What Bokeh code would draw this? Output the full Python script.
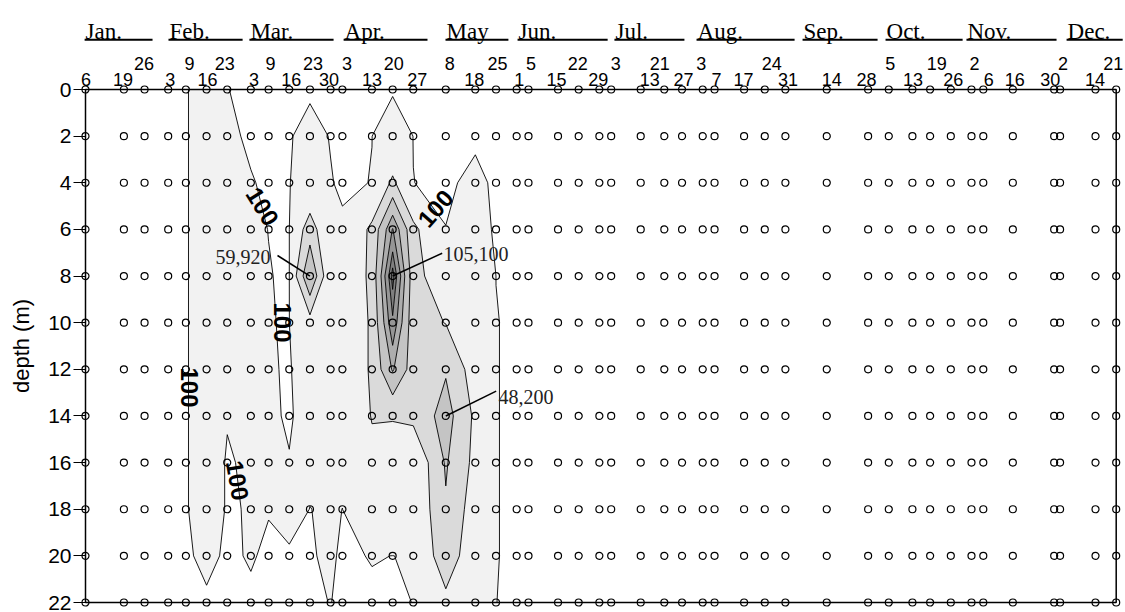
import datetime as dt
import math
import numpy as np
from bokeh.plotting import figure
from bokeh.layouts import row
from bokeh.models import Range1d, FixedTicker, ColumnDataSource
from bokeh.embed import file_html
from bokeh.resources import INLINE
from bokeh.core.properties import value

# ---------------- data ----------------
YEAR = 2001
sample_month = [1, 1, 1, 2, 2, 2, 2, 3, 3, 3, 3, 3, 4, 4, 4, 4, 5, 5, 5,
                6, 6, 6, 6, 6, 7, 7, 7, 7, 8, 8, 8, 8, 8, 9, 9,
                10, 10, 10, 10, 11, 11, 11, 11, 12, 12, 12]
sample_day = [6, 19, 26, 3, 9, 16, 23, 3, 9, 16, 23, 30, 3, 13, 20, 27, 8, 18, 25,
              1, 5, 15, 22, 29, 3, 13, 21, 27, 3, 7, 17, 24, 31, 14, 28,
              5, 13, 19, 26, 2, 6, 16, 30, 2, 14, 21]
depth_m = [0, 2, 4, 6, 8, 10, 12, 14, 16, 18, 20, 22]

# cell density at each sampling date, one list per depth (46 dates)
cells_0m = [0, 0, 0, 0, 0, 800, 110, 0, 0, 0, 0, 0, 0, 0, 0, 0, 0, 0, 0,
            0, 0, 0, 0, 0, 0, 0, 0, 0, 0, 0, 0, 0, 0, 0, 0, 0, 0, 0, 0, 0, 0, 0, 0, 0, 0, 0]
cells_2m = [0, 0, 0, 0, 0, 800, 233, 0, 0, 50, 330, 69, 0, 95, 667, 90, 0, 0, 0,
            0, 0, 0, 0, 0, 0, 0, 0, 0, 0, 0, 0, 0, 0, 0, 0, 0, 0, 0, 0, 0, 0, 0, 0, 0, 0, 0]
cells_4m = [0, 0, 0, 0, 0, 800, 300, 139, 0, 50, 1000, 135, 0, 116, 23400, 105, 0, 250, 0,
            0, 0, 0, 0, 0, 0, 0, 0, 0, 0, 0, 0, 0, 0, 0, 0, 0, 0, 0, 0, 0, 0, 0, 0, 0, 0, 0]
cells_6m = [0, 0, 0, 0, 0, 800, 300, 178, 95, 50, 30000, 200, 200, 24000, 76000, 24000, 110, 450, 0,
            0, 0, 0, 0, 0, 0, 0, 0, 0, 0, 0, 0, 0, 0, 0, 0, 0, 0, 0, 0, 0, 0, 0, 0, 0, 0, 0]
cells_8m = [0, 0, 0, 0, 0, 800, 300, 300, 114, 50, 59920, 200, 300, 25000, 105100, 28000, 5000, 3000, 95,
            0, 0, 0, 0, 0, 0, 0, 0, 0, 0, 0, 0, 0, 0, 0, 0, 0, 0, 0, 0, 0, 0, 0, 0, 0, 0, 0]
cells_10m = [0, 0, 0, 0, 0, 800, 300, 300, 129, 50, 12000, 200, 300, 23000, 87300, 27000, 19500, 8000, 120,
             0, 0, 0, 0, 0, 0, 0, 0, 0, 0, 0, 0, 0, 0, 0, 0, 0, 0, 0, 0, 0, 0, 0, 0, 0, 0, 0]
cells_12m = [0, 0, 0, 0, 0, 800, 300, 300, 150, 50, 500, 200, 300, 23000, 62000, 30000, 38000, 10000, 120,
             0, 0, 0, 0, 0, 0, 0, 0, 0, 0, 0, 0, 0, 0, 0, 0, 0, 0, 0, 0, 0, 0, 0, 0, 0, 0, 0]
cells_14m = [0, 0, 0, 0, 0, 800, 167, 300, 178, 50, 300, 300, 300, 21000, 22000, 25000, 48200, 16000, 120,
             0, 0, 0, 0, 0, 0, 0, 0, 0, 0, 0, 0, 0, 0, 0, 0, 0, 0, 0, 0, 0, 0, 0, 0, 0, 0, 0]
cells_16m = [0, 0, 0, 0, 0, 800, 0, 286, 250, 120, 250, 300, 300, 15000, 5000, 1300, 42000, 14500, 120,
             0, 0, 0, 0, 0, 0, 0, 0, 0, 0, 0, 0, 0, 0, 0, 0, 0, 0, 0, 0, 0, 0, 0, 0, 0, 0, 0]
cells_18m = [0, 0, 0, 0, 0, 800, 0, 170, 130, 400, 90, 200, 95, 2000, 1500, 1300, 38000, 9400, 120,
             0, 0, 0, 0, 0, 0, 0, 0, 0, 0, 0, 0, 0, 0, 0, 0, 0, 0, 0, 0, 0, 0, 0, 0, 0, 0, 0]
cells_20m = [0, 0, 0, 0, 0, 270, 0, 150, 0, 0, 50, 200, 0, 130, 95, 150, 32000, 6000, 120,
             0, 0, 0, 0, 0, 0, 0, 0, 0, 0, 0, 0, 0, 0, 0, 0, 0, 0, 0, 0, 0, 0, 0, 0, 0, 0, 0]
cells_22m = [0, 0, 0, 0, 0, 0, 0, 0, 0, 0, 30, 110, 0, 0, 0, 110, 15000, 2000, 105,
             0, 0, 0, 0, 0, 0, 0, 0, 0, 0, 0, 0, 0, 0, 0, 0, 0, 0, 0, 0, 0, 0, 0, 0, 0, 0, 0]

contour_levels = [100, 20000, 40000, 60000, 75000, 90000, 100000, 200000]

peak_text = ["59,920", "105,100", "48,200"]
peak_month = [3, 4, 5]
peak_day = [23, 20, 8]
peak_depth = [8, 8, 14]

month_names = ["Jan.", "Feb.", "Mar.", "Apr.", "May", "Jun.", "Jul.", "Aug.",
               "Sep.", "Oct.", "Nov.", "Dec."]
month_span_start = [5.7, 34.1, 61.5, 93.4, 127.9, 152.3, 185.1, 212.9, 248.8, 276.9, 304.3, 338.2]
month_span_end = [28.7, 59.2, 90.0, 121.8, 149.2, 182.8, 208.8, 246.1, 274.2, 303.0, 334.8, 357.2]

# ---------------- layout / style ----------------
label_raised = [0, 0, 1, 0, 1, 0, 1, 0, 1, 0, 1, 0, 1, 0, 1, 0, 1, 0, 1,
                0, 1, 0, 1, 0, 1, 0, 1, 0, 1, 0, 0, 1, 0, 0, 0,
                1, 0, 1, 0, 1, 0, 0, 0, 1, 0, 1]
label_nudge = [0.5, -1, -0.5, 2, 3.5, 1, -2.5, 3, 2, 2, 3, -1.5, 4.5, 0, 1, 4, 4, -1, 1.5,
               2.5, 2.5, -1.5, -1, -1, 4.5, 9, -4.5, 1.5, -1.5, 2, -0.5, 7, 2.5, 5, -1.5,
               1.5, 0.5, 6.5, 2.5, 3, 5.5, 2, -4, 3, -0.5, -3]
band_colors = ["#f2f2f2", "#dadada", "#c4c4c4", "#adadad", "#969696", "#7f7f7f", "#6b6b6b"]
FONT_SANS = "Liberation Sans"
FONT_SERIF = "Liberation Serif"

doy = [dt.date(YEAR, m, d).timetuple().tm_yday for m, d in zip(sample_month, sample_day)]
PX_PER_DAY = 1030.7 / (doy[-1] - doy[0])
PX_PER_M = 513.0 / 22.0


def xd(px):
    return doy[0] + (px - 85.0) / PX_PER_DAY


def yd(py):
    return (py - 89.0) / PX_PER_M


Z = np.array([cells_0m, cells_2m, cells_4m, cells_6m, cells_8m, cells_10m,
              cells_12m, cells_14m, cells_16m, cells_18m, cells_20m, cells_22m], dtype=float)

# ---------------- main plot ----------------
p = figure(frame_width=1050, frame_height=612,
           x_range=Range1d(xd(73), xd(1123)), y_range=Range1d(yd(612), yd(0)),
           output_backend="svg", toolbar_location=None,
           min_border_left=33, min_border_right=0, min_border_top=0, min_border_bottom=0)
p.outline_line_color = None
p.grid.visible = False
p.xaxis.visible = False
p.background_fill_color = "white"

p.contour(x=doy, y=depth_m, z=Z, levels=contour_levels,
          fill_color=band_colors, line_color="black", line_width=0.9)

# frame of the sampled domain
p.quad(left=doy[0], right=doy[-1], top=depth_m[0], bottom=depth_m[-1],
       fill_color=None, line_color="black", line_width=1.5)

# sampling points
gx, gy = np.meshgrid(doy, depth_m)
p.scatter(x=gx.ravel(), y=gy.ravel(), marker="circle", size=7,
          fill_color=None, line_color="black", line_width=1.2)

# y axis
ya = p.yaxis[0]
ya.ticker = FixedTicker(ticks=depth_m)
ya.axis_line_color = None
ya.major_tick_in = 12
ya.major_tick_out = 0
ya.major_tick_line_width = 1.2
ya.minor_tick_line_color = None
ya.major_label_standoff = 2
ya.major_label_text_font = FONT_SANS
ya.major_label_text_font_size = "21px"
ya.major_label_text_color = "black"

# sampling-day labels along the top
day_src = ColumnDataSource(dict(
    x=doy, y=[depth_m[0]] * len(doy), t=[str(d) for d in sample_day],
    dx=label_nudge, dy=[-26 if r else -10 for r in label_raised]))
p.text(x="x", y="y", text="t", x_offset="dx", y_offset="dy", source=day_src,
       text_align="center", text_baseline="alphabetic",
       text_font=value(FONT_SANS), text_font_size="18px", text_color="black")

# month names with underline
p.segment(x0=month_span_start, y0=[yd(39.3)] * 12, x1=month_span_end, y1=[yd(39.3)] * 12,
          line_color="black", line_width=2)
p.text(x=month_span_start, y=[yd(30.7)] * 12, text=month_names, x_offset=1,
       text_align="left", text_baseline="alphabetic",
       text_font=value(FONT_SERIF), text_font_size="23px", text_color="black")

# contour labels "100"
p.text(x=[xd(262), xd(282), xd(435), xd(189), xd(237)],
       y=[yd(206), yd(322), yd(208), yd(387), yd(480)],
       text=["100"] * 5,
       angle=[-1.01, -math.pi / 2, 0.85, -math.pi / 2, -1.4],
       text_align="center", text_baseline="middle", text_font_style="bold",
       text_font=value(FONT_SANS), text_font_size="24px", text_color="black")

# peak annotations
peak_x = [dt.date(YEAR, m, d).timetuple().tm_yday for m, d in zip(peak_month, peak_day)]
p.segment(x0=[xd(277), xd(441.7), xd(495.7)], y0=[yd(255), yd(252.7), yd(390.7)],
          x1=peak_x, y1=peak_depth, line_color="black", line_width=1.5)
p.text(x=[xd(270), xd(443), xd(498)], y=[yd(256), yd(253.5), yd(396)], text=peak_text,
       text_align=["right", "left", "left"], text_baseline="alphabetic",
       text_font=value(FONT_SERIF), text_font_size="20px", text_color="#222222")

# ---------------- y-axis title strip ----------------
q = figure(frame_width=40, frame_height=612, x_range=Range1d(0, 40),
           y_range=Range1d(yd(612), yd(0)), output_backend="svg", toolbar_location=None,
           x_axis_type=None, y_axis_type=None,
           min_border_left=0, min_border_right=0, min_border_top=0, min_border_bottom=0)
q.outline_line_color = None
q.grid.visible = False
q.text(x=[21], y=[11], text=["depth (m)"], angle=math.pi / 2,
       text_align="center", text_baseline="middle",
       text_font=value(FONT_SANS), text_font_size="22px", text_color="black")

layout = row(q, p, spacing=0)
open("out.html", "w").write(file_html(layout, INLINE))
